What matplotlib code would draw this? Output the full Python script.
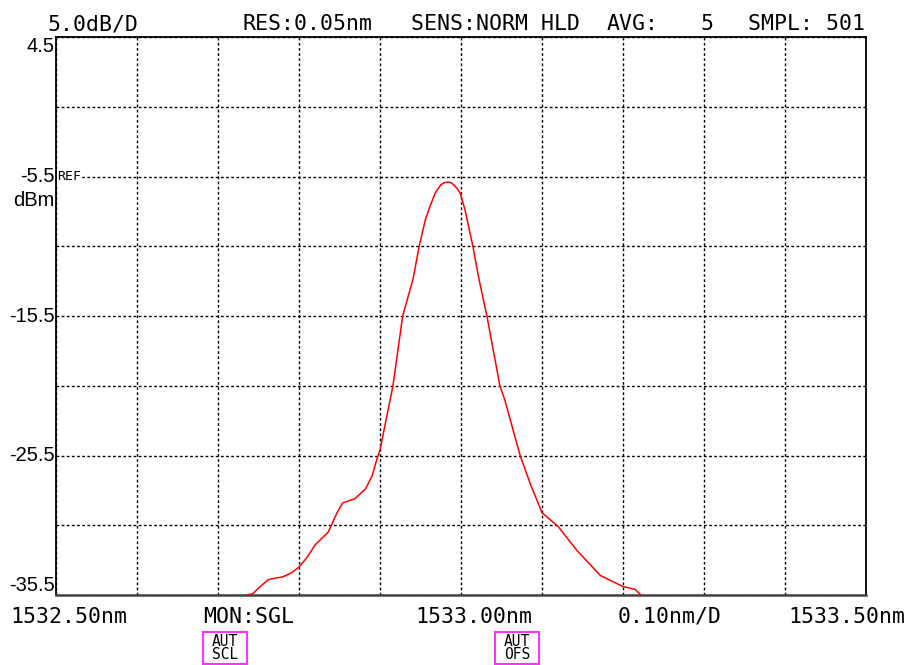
import matplotlib
matplotlib.use("Agg")
import matplotlib.pyplot as plt
from matplotlib.patches import Rectangle
from matplotlib.transforms import blended_transform_factory

# ----------------------------------
# Trace data (wavelength in nm, level in dBm)
# ----------------------------------

wavelength = [
    1532.730, 1532.743, 1532.754, 1532.762, 1532.770, 1532.780, 1532.791,
    1532.800, 1532.810, 1532.820, 1532.836, 1532.847, 1532.854, 1532.869,
    1532.882, 1532.890, 1532.896, 1532.900, 1532.916, 1532.928, 1532.941,
    1532.948, 1532.956, 1532.962, 1532.968, 1532.975, 1532.979, 1532.984,
    1532.988, 1532.991, 1532.995, 1532.999, 1533.005, 1533.015, 1533.022,
    1533.032, 1533.048, 1533.054, 1533.073, 1533.086, 1533.100, 1533.120,
    1533.143, 1533.172, 1533.200, 1533.208, 1533.215, 1533.224,
]
level = [
    -35.6, -35.4, -34.8, -34.4, -34.3, -34.2, -33.9,
    -33.5, -32.8, -31.9, -31.0, -29.6, -28.9, -28.6,
    -27.9, -27.0, -25.8, -25.1, -20.5, -15.5, -12.8,
    -10.6, -8.6, -7.6, -6.7, -6.1, -5.95, -5.9,
    -5.95, -6.1, -6.35, -6.7, -7.9, -10.6, -12.8,
    -15.5, -20.5, -21.5, -25.5, -27.6, -29.6, -30.6,
    -32.3, -34.1, -34.9, -35.0, -35.1, -35.6,
]

x_start, x_stop, x_div = 1532.50, 1533.50, 0.10
y_top, y_bottom, y_div = 4.5, -35.5, 5.0
y_labels = [4.5, -5.5, -15.5, -25.5, -35.5]

header = [
    (47, "5.0dB/D"),
    (242, "RES:0.05nm"),
    (411, "SENS:NORM HLD"),
    (607, "AVG:"),
    (700, "5"),
    (748, "SMPL: 501"),
]
footer = [
    (10, "1532.50nm"),
    (203, "MON:SGL"),
    (415, "1533.00nm"),
    (618, "0.10nm/D"),
    (788, "1533.50nm"),
]
status_boxes = [(203, "AUT\nSCL"), (495, "AUT\nOFS")]

W, H = 907, 665
MONO = "DejaVu Sans Mono"
SCALE_FONT = "Liberation Sans"

fig = plt.figure(figsize=(W / 100, H / 100), dpi=100)
fig.patch.set_facecolor("white")

ax = fig.add_axes([56 / W, 1 - 595 / H, 810 / W, 558 / H])
ax.set_xlim(x_start, x_stop)
ax.set_ylim(y_bottom, y_top)

n_x = int(round((x_stop - x_start) / x_div))
n_y = int(round((y_top - y_bottom) / y_div))
ax.set_xticks([x_start + i * x_div for i in range(n_x + 1)])
ax.set_yticks([y_bottom + i * y_div for i in range(n_y + 1)])
ax.tick_params(length=0, labelleft=False, labelbottom=False)
ax.grid(True, color="black", linestyle=(0, (2.0, 1.7)), linewidth=1.0)

for side, sp in ax.spines.items():
    sp.set_color("black")
    sp.set_linewidth(1.3)
ax.spines["bottom"].set_color("#444444")
ax.spines["bottom"].set_linewidth(1.8)

ax.plot(wavelength, level, color="red", linewidth=1.1, zorder=5)

# ----------------------------------
# Level scale on the left
# ----------------------------------

trans = blended_transform_factory(ax.transAxes, ax.transData)
for val in y_labels:
    if val == y_top:
        va = "top"
    elif val == y_bottom:
        va = "bottom"
    else:
        va = "center"
    ax.text(-0.002, val, f"{val:g}", transform=trans, ha="right", va=va,
            family=SCALE_FONT, fontsize=14.5, color="black")

ax.text(-0.002, -5.5 - 1.7, "dBm", transform=trans, ha="right", va="center",
        family=SCALE_FONT, fontsize=14.5, color="black")
ax.text(0.002, -5.5, "REF", transform=trans, ha="left", va="center",
        family=MONO, fontsize=9.5, color="black", zorder=6,
        bbox=dict(facecolor="white", edgecolor="none", pad=0.5))

# ----------------------------------
# Header and footer annotation
# ----------------------------------

for px, txt in header:
    fig.text(px / W, 1 - 30 / H, txt, family=MONO, fontsize=15.5,
             ha="left", va="baseline")

for px, txt in footer:
    fig.text(px / W, 1 - 623 / H, txt, family=MONO, fontsize=15.5,
             ha="left", va="baseline")

for px, txt in status_boxes:
    fig.patches.append(Rectangle((px / W, 1 - 664 / H), 44 / W, 32 / H,
                                 transform=fig.transFigure, fill=False,
                                 edgecolor="#ff33ff", linewidth=1.5))
    fig.text((px + 22) / W, 1 - 648 / H, txt, family=MONO, fontsize=10.5,
             ha="center", va="center", linespacing=0.8)

fig.savefig("out.png", dpi=100)
